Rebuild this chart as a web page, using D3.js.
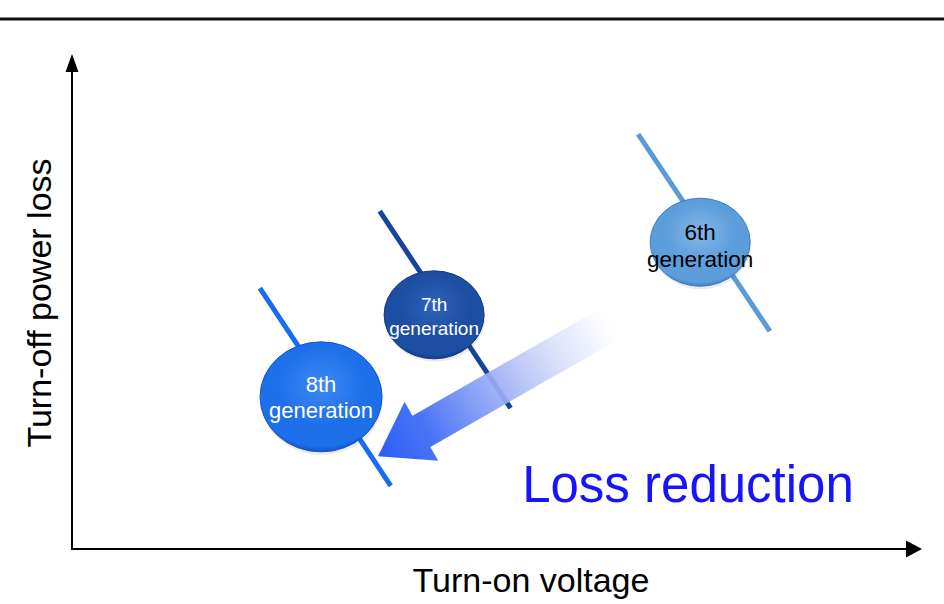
<!DOCTYPE html>
<html>
<head>
<meta charset="utf-8">
<script src="https://cdn.jsdelivr.net/npm/d3@7/dist/d3.min.js"></script>
<style>
  html, body { margin: 0; padding: 0; background: #ffffff; }
  svg { display: block; font-family: "Liberation Sans", Arial, sans-serif; }
</style>
</head>
<body>
<svg id="chart" width="944" height="604"></svg>
<script>
// Generations of devices and their position on the loss / voltage trade-off
const generations = ["6th", "7th", "8th"];
const genLabel = "generation";
// Operating point (centre of each bubble), arbitrary units 0..10
const turnOnVoltage = [7.39, 4.26, 2.93];
const turnOffLoss   = [6.21, 4.74, 3.08];
// Trade-off curve end points for each generation
const curveStartV = [6.66, 3.62, 2.21];
const curveStartL = [8.40, 6.84, 5.28];
const curveEndV   = [8.21, 5.16, 3.75];
const curveEndL   = [4.41, 2.85, 1.28];
// Improvement arrow: from tail to head (units)
const arrowFrom = [6.47, 4.70];
const arrowTo   = [3.60, 1.88];

const axisTitles = { x: "Turn-on voltage", y: "Turn-off power loss" };
const reductionText = "Loss reduction";

// Styling per generation
const genStyle = {
  "6th": { line: "#5a9ad6", fill: "#5c9ddb", light: "#84b6e6", dark: "#3f7fc0", text: "#000000", rx: 50, ry: 44, font: 22.5, dy1: -2, dy2: 25 },
  "7th": { line: "#17449a", fill: "#1c4ea3", light: "#2f63b8", dark: "#123a82", text: "#ffffff", rx: 50, ry: 44, font: 19, dy1: -4, dy2: 20 },
  "8th": { line: "#176cf0", fill: "#1e6fea", light: "#3e88f2", dark: "#1356c6", text: "#ffffff", rx: 61, ry: 55, font: 22, dy1: -5, dy2: 21 }
};

const svg = d3.select("#chart");
const x = d3.scaleLinear().domain([0, 10]).range([72, 922]);
const y = d3.scaleLinear().domain([0, 10]).range([549, 55]);

const defs = svg.append("defs");

// Header rule
svg.append("line")
  .attr("x1", 0).attr("x2", 944).attr("y1", 19).attr("y2", 19)
  .attr("stroke", "#111").attr("stroke-width", 3);

// Axes (no ticks, arrowed ends)
const x0 = x(0), y0 = y(0), xEnd = x.range()[1], yEnd = y.range()[1];
svg.append("line")
  .attr("x1", x0).attr("y1", y0).attr("x2", xEnd - 15).attr("y2", y0)
  .attr("stroke", "#000").attr("stroke-width", 2);
svg.append("path")
  .attr("d", `M${xEnd},${y0} L${xEnd - 16},${y0 - 8.5} L${xEnd - 16},${y0 + 8.5} Z`)
  .attr("fill", "#000");
svg.append("line")
  .attr("x1", x0).attr("y1", y0 + 1).attr("x2", x0).attr("y2", yEnd + 16)
  .attr("stroke", "#000").attr("stroke-width", 2);
svg.append("path")
  .attr("d", `M${x0},${yEnd - 1} L${x0 - 6.5},${yEnd + 17} L${x0 + 6.5},${yEnd + 17} Z`)
  .attr("fill", "#000");

svg.append("text")
  .attr("x", 531).attr("y", 592)
  .attr("text-anchor", "middle")
  .attr("font-size", 34).attr("fill", "#000")
  .text(axisTitles.x);
svg.append("text")
  .attr("transform", `translate(51, 303) rotate(-90)`)
  .attr("text-anchor", "middle")
  .attr("font-size", 34).attr("fill", "#000")
  .text(axisTitles.y);

// Trade-off curves
const data = generations.map((g, i) => ({
  gen: g,
  cx: turnOnVoltage[i], cy: turnOffLoss[i],
  sx: curveStartV[i], sy: curveStartL[i],
  ex: curveEndV[i], ey: curveEndL[i]
}));

svg.selectAll("line.curve").data(data).join("line")
  .attr("class", "curve")
  .attr("x1", d => x(d.sx)).attr("y1", d => y(d.sy))
  .attr("x2", d => x(d.ex)).attr("y2", d => y(d.ey))
  .attr("stroke", d => genStyle[d.gen].line)
  .attr("stroke-width", 5);

// Improvement arrow with fading gradient
const ax1 = x(arrowFrom[0]), ay1 = y(arrowFrom[1]);
const ax2 = x(arrowTo[0]), ay2 = y(arrowTo[1]);
const grad = defs.append("linearGradient")
  .attr("id", "arrowGrad")
  .attr("gradientUnits", "userSpaceOnUse")
  .attr("x1", ax2).attr("y1", ay2).attr("x2", ax1).attr("y2", ay1);
grad.append("stop").attr("offset", 0).attr("stop-color", "#2b5ef6").attr("stop-opacity", 1);
grad.append("stop").attr("offset", 0.2).attr("stop-color", "#4a74f6").attr("stop-opacity", 1);
grad.append("stop").attr("offset", 0.55).attr("stop-color", "#aab9f6").attr("stop-opacity", 0.9);
grad.append("stop").attr("offset", 0.85).attr("stop-color", "#e4e8fc").attr("stop-opacity", 0.6);
grad.append("stop").attr("offset", 1).attr("stop-color", "#ffffff").attr("stop-opacity", 0);

{
  const dx = ax1 - ax2, dy = ay1 - ay2;
  const len = Math.hypot(dx, dy);
  const ux = dx / len, uy = dy / len;     // along shaft toward tail
  const px = -uy, py = ux;                // perpendicular
  const headLen = 50, headHalf = 34, shaftHalf = 18;
  const bx = ax2 + ux * headLen, by = ay2 + uy * headLen;
  const pts = [
    [ax2, ay2],
    [bx + px * headHalf, by + py * headHalf],
    [bx + px * shaftHalf, by + py * shaftHalf],
    [ax1 + px * shaftHalf, ay1 + py * shaftHalf],
    [ax1 - px * shaftHalf, ay1 - py * shaftHalf],
    [bx - px * shaftHalf, by - py * shaftHalf],
    [bx - px * headHalf, by - py * headHalf]
  ];
  svg.append("path")
    .attr("d", d3.line()(pts) + "Z")
    .attr("fill", "url(#arrowGrad)");
}

// Glossy bubbles
data.forEach(d => {
  const s = genStyle[d.gen];
  const rg = defs.append("radialGradient")
    .attr("id", "bub" + d.gen)
    .attr("cx", "50%").attr("cy", "40%").attr("r", "60%");
  rg.append("stop").attr("offset", 0).attr("stop-color", s.light);
  rg.append("stop").attr("offset", 0.6).attr("stop-color", s.fill);
  rg.append("stop").attr("offset", 0.92).attr("stop-color", s.fill);
  rg.append("stop").attr("offset", 1).attr("stop-color", s.dark);
});

const bub = svg.selectAll("g.bubble").data(data).join("g")
  .attr("class", "bubble")
  .attr("transform", d => `translate(${x(d.cx)},${y(d.cy)})`);

bub.append("ellipse")
  .attr("cx", 1).attr("cy", 3)
  .attr("rx", d => genStyle[d.gen].rx).attr("ry", d => genStyle[d.gen].ry)
  .attr("fill", "#000").attr("opacity", 0.08);
bub.append("ellipse")
  .attr("rx", d => genStyle[d.gen].rx).attr("ry", d => genStyle[d.gen].ry)
  .attr("fill", d => `url(#bub${d.gen})`)
  .attr("stroke", d => genStyle[d.gen].dark).attr("stroke-width", 1);

bub.append("text")
  .attr("text-anchor", "middle")
  .attr("y", d => genStyle[d.gen].dy1)
  .attr("font-size", d => genStyle[d.gen].font)
  .attr("fill", d => genStyle[d.gen].text)
  .text(d => d.gen);
bub.append("text")
  .attr("text-anchor", "middle")
  .attr("y", d => genStyle[d.gen].dy2)
  .attr("font-size", d => genStyle[d.gen].font)
  .attr("fill", d => genStyle[d.gen].text)
  .text(genLabel);

svg.append("text")
  .attr("x", 688).attr("y", 502)
  .attr("text-anchor", "middle")
  .attr("font-size", 51).attr("fill", "#1414ff")
  .text(reductionText);
</script>
</body>
</html>
